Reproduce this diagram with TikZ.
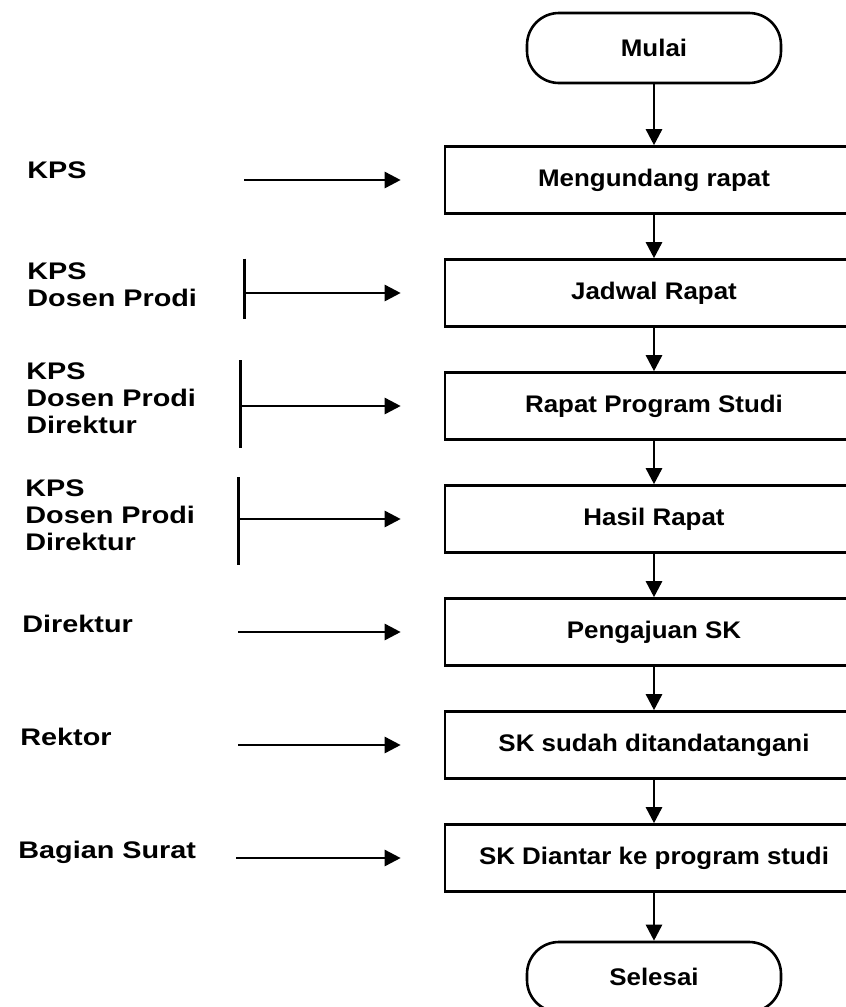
\documentclass[tikz,border=0pt]{standalone}
\usepackage{fontspec}
\setmainfont[FakeStretch=1.2]{Liberation Sans}
\newfontfamily\boxfamily[FakeStretch=1.08]{Liberation Sans}
\usepackage{tikz}
\usetikzlibrary{arrows.meta, positioning, calc}
\newcommand{\flowfont}{\fontsize{12}{13.5}\selectfont\bfseries}
\tikzset{
  term/.style   = {rectangle, rounded corners=16pt, draw, line width=1.3pt,
                   minimum width=127pt, minimum height=35pt,
                   font=\boxfamily\flowfont},
  proc/.style   = {rectangle, draw, line width=1.3pt, minimum width=209pt,
                   minimum height=33.5pt, font=\boxfamily\flowfont},
  flow/.style   = {-{Triangle[length=8pt, width=8pt]}, line width=1.3pt},
  feed/.style   = {flow, shorten >=21.5pt},
  actor/.style  = {anchor=west, align=left, inner sep=0pt, font=\flowfont},
  bar/.style    = {line width=1.5pt},
}

\begin{document}
\begin{tikzpicture}[node distance=21.7pt]
  \useasboundingbox (0,0) rectangle (423pt,-503.5pt);
  \clip (0,0) rectangle (423pt,-503.5pt);
  % main column
  \node[term] (start) at (327pt,-24pt) {Mulai};
  \node[proc, below=30.45pt of start] (b1) {Mengundang rapat};
  \node[proc, below=of b1] (b2) {Jadwal Rapat};
  \node[proc, below=of b2] (b3) {Rapat Program Studi};
  \node[proc, below=of b3] (b4) {Hasil Rapat};
  \node[proc, below=of b4] (b5) {Pengajuan SK};
  \node[proc, below=of b5] (b6) {SK sudah ditandatangani};
  \node[proc, below=of b6] (b7) {SK Diantar ke program studi};
  \node[term, below=23.95pt of b7] (stop) {Selesai};
  \draw[flow] (start) -- (b1);
  \draw[flow] (b1) -- (b2);
  \draw[flow] (b2) -- (b3);
  \draw[flow] (b3) -- (b4);
  \draw[flow] (b4) -- (b5);
  \draw[flow] (b5) -- (b6);
  \draw[flow] (b6) -- (b7);
  \draw[flow] (b7) -- (stop);
  % who does it
  \coordinate (t1) at (b1.west -| 122pt,0);
  \coordinate (t2) at (b2.west -| 122pt,0);
  \coordinate (t3) at (b3.west -| 120pt,0);
  \coordinate (t4) at (b4.west -| 119pt,0);
  \coordinate (t5) at (b5.west -| 119pt,0);
  \coordinate (t6) at (b6.west -| 119pt,0);
  \coordinate (t7) at (b7.west -| 118pt,0);
  \node[actor] (a1) at ($(13.5pt,0 |- b1)+(0,5pt)$) {KPS};
  \node[actor] (a2) at ($(13.5pt,0 |- b2)+(0,4pt)$) {KPS\\Dosen Prodi};
  \node[actor] (a3) at ($(13pt,0 |- b3)+(0,4pt)$) {KPS\\Dosen Prodi\\Direktur};
  \node[actor] (a4) at ($(12.5pt,0 |- b4)+(0,2pt)$) {KPS\\Dosen Prodi\\Direktur};
  \node[actor] (a5) at ($(11pt,0 |- b5)+(0,4pt)$) {Direktur};
  \node[actor] (a6) at ($(10pt,0 |- b6)+(0,4pt)$) {Rektor};
  \node[actor] (a7) at ($(9pt,0 |- b7)+(0,3pt)$) {Bagian Surat};
  \draw[bar] ([yshift=2pt]a2.north -| t2) -- ([yshift=-6pt]a2.south -| t2);
  \draw[bar] ([yshift=1pt]a3.north -| t3) -- ([yshift=-7pt]a3.south -| t3);
  \draw[bar] ([yshift=1pt]a4.north -| t4) -- ([yshift=-7pt]a4.south -| t4);
  \draw[feed] (t1) -- (b1);
  \draw[feed] (t2) -- (b2);
  \draw[feed] (t3) -- (b3);
  \draw[feed] (t4) -- (b4);
  \draw[feed] (t5) -- (b5);
  \draw[feed] (t6) -- (b6);
  \draw[feed] (t7) -- (b7);
\end{tikzpicture}
\end{document}
